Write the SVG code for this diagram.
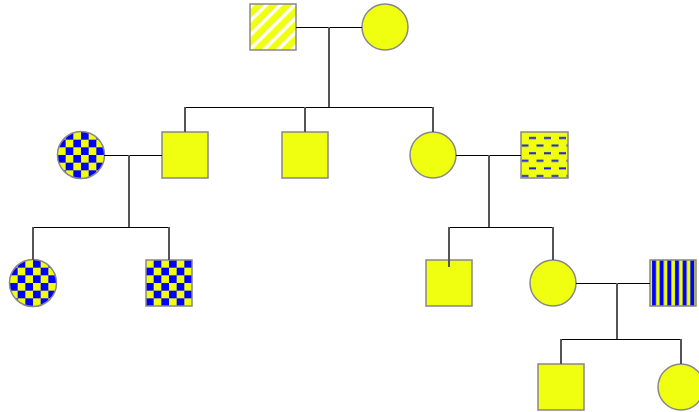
<svg xmlns="http://www.w3.org/2000/svg" width="699" height="412" viewBox="0 0 699 412">
<style>
.n{stroke:#888;stroke-width:1.5}
.y{fill:#f0ff10}
.h{stroke:#000;stroke-width:1;fill:none}
.v{stroke:#555;stroke-width:2;fill:none}
</style>
<defs>
<pattern id="diag" patternUnits="userSpaceOnUse" width="10" height="10" patternTransform="rotate(45)">
<rect width="10" height="10" fill="#f0ff10"/>
<rect x="0" y="0" width="3.5" height="10" fill="#fff"/>
</pattern>
<pattern id="check" patternUnits="userSpaceOnUse" width="15.333" height="15.333">
<rect width="15.333" height="15.333" fill="#f0ff10"/>
<rect x="7.667" y="0" width="7.667" height="7.667" fill="#0000ff"/>
<rect x="0" y="7.667" width="7.667" height="7.667" fill="#0000ff"/>
</pattern>
<pattern id="stripe" patternUnits="userSpaceOnUse" width="7.667" height="10">
<rect width="7.667" height="10" fill="#f0ff10"/>
<rect x="2" y="0" width="4" height="10" fill="#0000ff"/>
</pattern>
<pattern id="dash" patternUnits="userSpaceOnUse" width="15" height="15.2">
<rect width="15" height="15.2" fill="#f0ff10"/>
<rect x="8" y="5" width="7" height="2" fill="#1a1adc"/>
<rect x="0.5" y="12.6" width="7" height="2" fill="#1a1adc"/>
</pattern>
</defs>
<g id="n1"><rect class="n" x="250" y="4" width="46" height="46" fill="url(#diag)"/></g>
<g id="n2"><circle class="n y" cx="385" cy="27" r="23"/></g>
<g id="n3" transform="translate(81,155)"><circle class="n" cx="0" cy="0" r="23.5" fill="url(#check)"/></g>
<g id="n4"><rect class="n y" x="162" y="132" width="46" height="46"/></g>
<g id="n5"><rect class="n y" x="282" y="132" width="46" height="46"/></g>
<g id="n6"><circle class="n y" cx="433" cy="155" r="23"/></g>
<g id="n7" transform="translate(521,132)"><rect class="n" x="0" y="0" width="47" height="46" fill="url(#dash)"/></g>
<g id="n8" transform="translate(33,283)"><circle class="n" cx="0" cy="0" r="23.5" fill="url(#check)"/></g>
<g id="n9" transform="translate(146,260)"><rect class="n" x="0" y="0" width="46" height="46" fill="url(#check)"/></g>
<g id="n10"><rect class="n y" x="426" y="260" width="46" height="46"/></g>
<g id="n11"><circle class="n y" cx="553" cy="283" r="23"/></g>
<g id="n12" transform="translate(650,260)"><rect class="n" x="0" y="0" width="46" height="46" fill="url(#stripe)"/></g>
<g id="n13"><rect class="n y" x="538" y="364" width="46" height="46"/></g>
<g id="n14"><circle class="n y" cx="681" cy="387" r="23"/></g>
<g id="connectors">
<path class="h" d="M296 27.5H362M185 107.5H433M104 155.5H162M456 155.5H521M33 227.5H169M449 227.5H553M576 283.5H650M561 339.5H681"/>
<path class="v" d="M329 27V107M185 107V132M305 107V132M433 107V132M129 155V227M489 155V227M33 227V260M169 227V260M449 227V267M553 227V260M617 283V339M561 339V364M681 339V364"/>
</g>
</svg>
